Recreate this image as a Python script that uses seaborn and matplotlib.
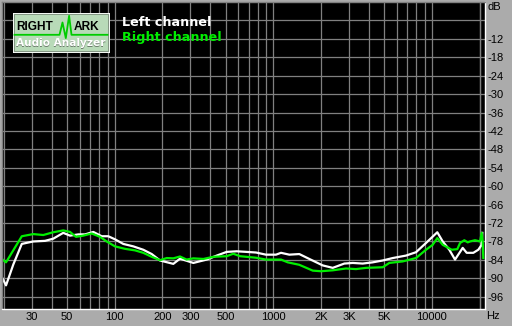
import numpy as np
import pandas as pd
import matplotlib
matplotlib.use("Agg")
import matplotlib.pyplot as plt
import seaborn as sns
from matplotlib.patches import Rectangle

# ---------------- data ----------------
left_freq = [19.6, 20.6, 22.9, 25.9, 30.6, 36.3, 40.9, 47.3, 52.2, 58.9, 64.9, 73.2,
             82.7, 91.0, 100.3, 113.1, 130.9, 151.3, 171.0, 192.9, 234, 258, 313, 380,
             440, 508, 588, 680, 778, 899, 1040, 1119, 1262, 1459, 1688, 2050, 2371,
             2806, 3170, 3665, 4239, 4901, 5667, 6875, 7952, 9194, 10830, 11720, 12900,
             14010, 15670, 16600, 18280, 19650, 20650, 20830]
left_db = [-90.1, -92.3, -85.5, -78.8, -78.0, -77.8, -77.1, -75.2, -76.1, -75.7, -75.7, -74.9,
           -76.3, -76.3, -77.3, -78.8, -79.6, -80.7, -82.1, -84.2, -85.3, -83.6, -85.0, -83.9,
           -82.6, -81.4, -81.2, -81.4, -81.6, -82.3, -82.3, -81.7, -82.3, -82.1, -83.7, -85.8, -86.6,
           -85.2, -85.0, -85.2, -84.8, -84.2, -83.4, -82.6, -81.5, -78.5, -75.0, -78.0, -80.7,
           -83.9, -80.1, -81.7, -81.7, -80.7, -79.1, -75.2]

right_freq = [19.6, 20.6, 25.9, 30.6, 35.4, 40.9, 47.3, 52.2, 56.9, 63.3, 71.5, 80.7, 88.9,
              100.3, 116.0, 134.1, 151.3, 171.0, 192.9, 212.6, 234, 258, 284, 313, 362, 418,
              508, 559, 617, 778, 899, 1119, 1233, 1459, 1774, 2000, 2371, 2876, 3326, 3845,
              4901, 5394, 6553, 7952, 9194, 10130, 10830, 11720, 12420, 13360, 14490, 15070,
              16040, 16850, 17420, 18730, 20150, 20650, 20950, 21130]
right_db = [-83.9, -84.8, -76.3, -75.6, -75.9, -75.0, -74.4, -74.9, -76.5, -76.1, -75.4, -76.5, -78.0,
            -79.6, -80.4, -80.9, -81.7, -83.0, -84.1, -83.4, -83.5, -82.9, -83.9, -83.5, -83.7, -83.0,
            -82.8, -82.0, -82.8, -83.3, -83.9, -83.9, -84.8, -85.6, -87.5, -87.7, -87.4, -86.8, -87.0, -86.6,
            -86.4, -85.0, -84.5, -83.4, -80.7, -79.1, -76.9, -79.1, -79.8, -80.7, -80.5, -78.5,
            -77.6, -78.3, -78.0, -77.6, -78.0, -75.2, -78.0, -83.4]

x_label_ticks = [30, 50, 100, 200, 300, 500, 1000, 2000, 3000, 5000, 10000]
x_label_text = ["30", "50", "100", "200", "300", "500", "1000", "2K", "3K", "5K", "10000"]
y_label_ticks = [-12, -18, -24, -30, -36, -42, -48, -54, -60, -66, -72, -78, -84, -90, -96]

series_names = ["Left channel", "Right channel"]
series_colors = ["#FFFFFF", "#00EE00"]

# ---------------- figure ----------------
W, H = 512, 326
BG = "#ABABAB"
fig = plt.figure(figsize=(W / 100, H / 100), dpi=100, facecolor=BG)
ax = fig.add_axes([2 / W, 1 - 309 / H, 483 / W, 307 / H])
ax.set_facecolor("black")

df = pd.concat([
    pd.DataFrame({"freq": left_freq, "db": left_db, "ch": series_names[0]}),
    pd.DataFrame({"freq": right_freq, "db": right_db, "ch": series_names[1]}),
])
sns.lineplot(data=df, x="freq", y="db", hue="ch", palette=series_colors,
             estimator=None, sort=False, linewidth=1.6, legend=False, ax=ax)

ax.set_xscale("log")
ax.set_xlim(19.43, 21660)
ax.set_ylim(-100, 0)

grid_freqs = [m * 10 ** e for e in range(1, 5) for m in range(1, 10)
              if 20 <= m * 10 ** e <= 20000] + [20000]
ax.set_xticks(grid_freqs, minor=False)
ax.set_xticklabels([x_label_text[x_label_ticks.index(f)] if f in x_label_ticks else ""
                    for f in grid_freqs])
ax.xaxis.set_minor_locator(matplotlib.ticker.NullLocator())
yt = list(range(-96, 0, 6))
ax.set_yticks(yt)
ax.set_yticklabels([str(v) if v in y_label_ticks else "" for v in yt])
ax.yaxis.tick_right()

ax.grid(True, color="#808080", linewidth=0.9)
ax.set_axisbelow(True)
ax.tick_params(axis="both", length=0, labelsize=8, colors="black")
ax.tick_params(axis="x", pad=2)
ax.tick_params(axis="y", pad=1.5)
for lab in ax.get_xticklabels() + ax.get_yticklabels():
    lab.set_fontfamily("Liberation Sans")
ax.set_xlabel("")
ax.set_ylabel("")
for side, col in [("left", "#808080"), ("top", "#808080"), ("right", "white"), ("bottom", "white")]:
    ax.spines[side].set_color(col)
    ax.spines[side].set_linewidth(1.0)

def fpx(x, y):
    return x / W, 1 - y / H

fig.text(*fpx(487, 7.5), "dB", fontsize=8, family="Liberation Sans", va="center", ha="left")
fig.text(*fpx(486, 316), "Hz", fontsize=8, family="Liberation Sans", va="center", ha="left")

# legend texts
fig.text(*fpx(122, 22.5), series_names[0], color=series_colors[0], fontsize=9.2,
         fontweight="bold", va="center", ha="left", family="DejaVu Sans")
fig.text(*fpx(122, 38), series_names[1], color=series_colors[1], fontsize=9.2,
         fontweight="bold", va="center", ha="left", family="DejaVu Sans")

# logo
lx, ly, lw, lh = 12.5, 12.5, 97, 40
lax = fig.add_axes([lx / W, 1 - (ly + lh) / H, lw / W, lh / H])
lax.set_xlim(0, lw)
lax.set_ylim(lh, 0)
lax.axis("off")
lax.add_patch(Rectangle((0, 0), lw, lh, facecolor="#B8DAB8", edgecolor="white", linewidth=1.2))
lax.add_patch(Rectangle((1.5, 1.5), lw - 3, lh - 3, facecolor="none", edgecolor="#7A8A7A", linewidth=0.6))
wave_x = [2, 47, 50, 53.3, 56.6, 59, 95]
wave_y = [22.3, 22.3, 10, 25.6, 3.3, 22.3, 22.3]
lax.plot(wave_x, wave_y, color="#00CC00", linewidth=1.3)
lax.text(3.3, 15.0, "RIGHT", fontsize=8.6, fontweight="bold", family="Liberation Sans",
         color="black", va="center", ha="left")
lax.text(61.5, 15.0, "ARK", fontsize=8.6, fontweight="bold", family="Liberation Sans",
         color="black", va="center", ha="left")
lax.text(4.0, 31.5, "Audio Analyzer", fontsize=7.6, fontweight="bold", family="DejaVu Sans",
         color="#6E7E6E", va="center", ha="left")
lax.text(3.3, 30.8, "Audio Analyzer", fontsize=7.6, fontweight="bold", family="DejaVu Sans",
         color="white", va="center", ha="left")

fig.savefig("out.png", dpi=100, facecolor=BG)
